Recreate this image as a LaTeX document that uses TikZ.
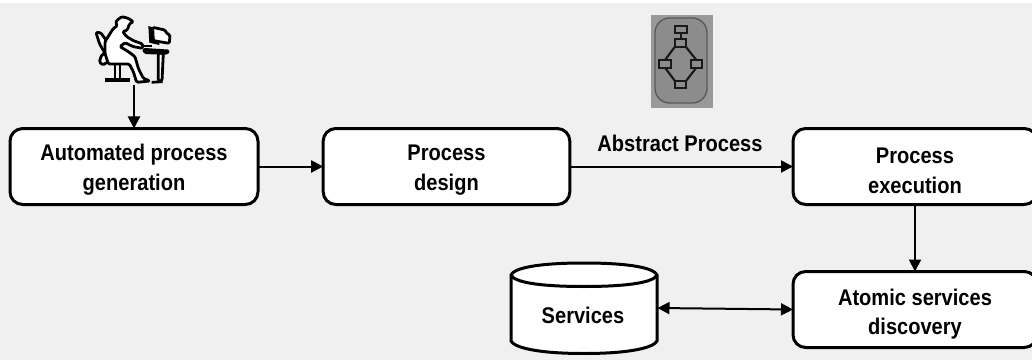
\documentclass[tikz,border=0pt]{standalone}
\usepackage{fontspec}
\setmainfont{Liberation Sans}
\usetikzlibrary{arrows.meta}
\definecolor{bgc}{HTML}{F0F0F0}
\newcommand{\boxfont}{\fontsize{17pt}{22pt}\selectfont\bfseries}
\newcommand{\sq}[1]{\scalebox{0.885}[1]{#1}}
\newcommand{\firstline}[2]{\rule{0pt}{#1pt}\sq{#2}}
\tikzset{
  procbox/.style={draw=black,fill=white,line width=2.25pt,rounded corners=9.5pt,minimum width=183pt,minimum height=57pt,inner sep=0pt,outer sep=0pt,align=center,font=\boxfont},
  flow/.style={draw=black,line width=1.5pt,-{Triangle[length=9pt,width=9pt]}},
  biflow/.style={draw=black,line width=1.5pt,{Triangle[length=9pt,width=9pt]}-{Triangle[length=9pt,width=9pt]}},
  txt/.style={inner sep=0pt,outer sep=0pt,align=center,font=\boxfont},
  inkline/.style={draw=black,line width=2.1pt,line join=round,rounded corners=1pt},
  iconline/.style={draw=black!90,line width=1.6pt,fill=none}
}
\begin{document}
\begin{tikzpicture}[x=0.75pt,y=-0.75pt]
\clip (0,0) rectangle (1032,360);
\fill[white] (0,0) rectangle (1032,360);
\fill[bgc] (0,3) rectangle (1032,360);

% boxes
\node[procbox,minimum width=186pt] (auto) at (134,166.5) {\firstline{17}{Automated process}\\\sq{generation}};
\node[procbox,minimum width=185pt] (design) at (446.5,166.5) {\firstline{17}{Process}\\\sq{design}};
\node[procbox] (exec) at (915,166.5) {\firstline{18}{Process}\\\sq{execution}};
\node[procbox] (disc) at (915,309.5) {\firstline{19}{Atomic services}\\\sq{discovery}};

% cylinder
\node[inner sep=0pt,outer sep=0pt,minimum width=110.25pt,minimum height=60pt] (svc) at (584,308) {};
\draw[black,line width=2.25pt,fill=white] (511,275) -- (511,341) .. controls (514,347) and (535,353.5) .. (584,353.5) .. controls (633,353.5) and (654,347) .. (657,341) -- (657,275) .. controls (654,268) and (630,263) .. (584,263) .. controls (538,263) and (514,268) .. (511,275) -- cycle;
\draw[black,line width=2.25pt] (511,275) .. controls (514,282) and (538,286.5) .. (584,286.5) .. controls (630,286.5) and (654,282) .. (657,275);
\node[txt] (svclabel) at (583,315) {\sq{Services}};

% person
\begin{scope}[shift={(70,0)},x=0.25pt,y=-0.25pt]
  \draw[inkline,fill=white] (78,97) -- (92,98) -- (108,120) -- (115,185) -- (98,195) -- (88,185) -- (95,165) -- (105,160) -- (88,130) -- cycle;
  \draw[inkline,fill=white] (140,62) -- (155,50) -- (175,55) -- (190,65) -- (178,72) -- (172,90) -- (158,95) -- (170,110) -- (190,122) -- (218,132) -- (218,145) -- (190,140) -- (165,128) -- (150,140) -- (175,155) -- (195,170) -- (205,205) -- (220,235) -- (240,243) -- (200,247) -- (190,215) -- (178,192) -- (115,192) -- (105,160) -- (105,125) -- (130,85) -- (142,78) -- (137,68) -- cycle;
  \draw[inkline] (135,192) -- (135,235) (150,192) -- (150,235);
  \draw[draw=black,line width=2.4pt] (105,240) -- (180,240);
  \draw[inkline,fill=white] (220,148) -- (297,153) -- (290,160) -- (225,158) -- cycle;
  \draw[inkline,fill=white] (265,160) -- (280,160) -- (276,243) -- (265,243) -- cycle;
  \draw[draw=black,line width=2pt] (245,247) -- (278,245);
  \draw[inkline,fill=white] (248,82) -- (285,90) -- (290,100) -- (300,105) -- (298,130) -- (250,122) -- cycle;
  \fill[black] (235,78) -- (248,82) -- (250,122) -- (268,128) -- (268,135) -- (238,128) -- cycle;
  \fill[black] (218,135) -- (245,135) -- (245,142) -- (218,142) -- cycle;
\end{scope}
\coordinate (personfoot) at (134,85);

% process icon
\fill[black!40] (651,15) rectangle (713,108);
\draw[draw=black!65,line width=1pt,fill=black!45,rounded corners=11pt] (655,18) rectangle (707,103);
\begin{scope}[shift={(640,5)},x=0.25pt,y=-0.25pt]
  \draw[iconline] (122,85) -- (122,102);
  \draw[iconline] (105,125) -- (75,165) (137,125) -- (169,165) (75,188) -- (105,228) (169,188) -- (138,228);
  \draw[iconline] (105,62) rectangle (140,85);
  \draw[iconline] (105,102) rectangle (137,125);
  \draw[iconline] (58,165) rectangle (92,188);
  \draw[iconline] (152,165) rectangle (186,188);
  \draw[iconline] (105,228) rectangle (138,250);
\end{scope}

% connectors
\draw[flow] (personfoot) -- (auto.north);
\draw[flow] (auto.east) -- (design.west);
\draw[flow] (design.east) -- (exec.west);
\draw[flow] (exec.south) -- (disc.north);
\draw[biflow] (svc.east) -- (disc.west);

\node[txt] (abs) at (680,143) {\sq{Abstract Process}};
\end{tikzpicture}
\end{document}
